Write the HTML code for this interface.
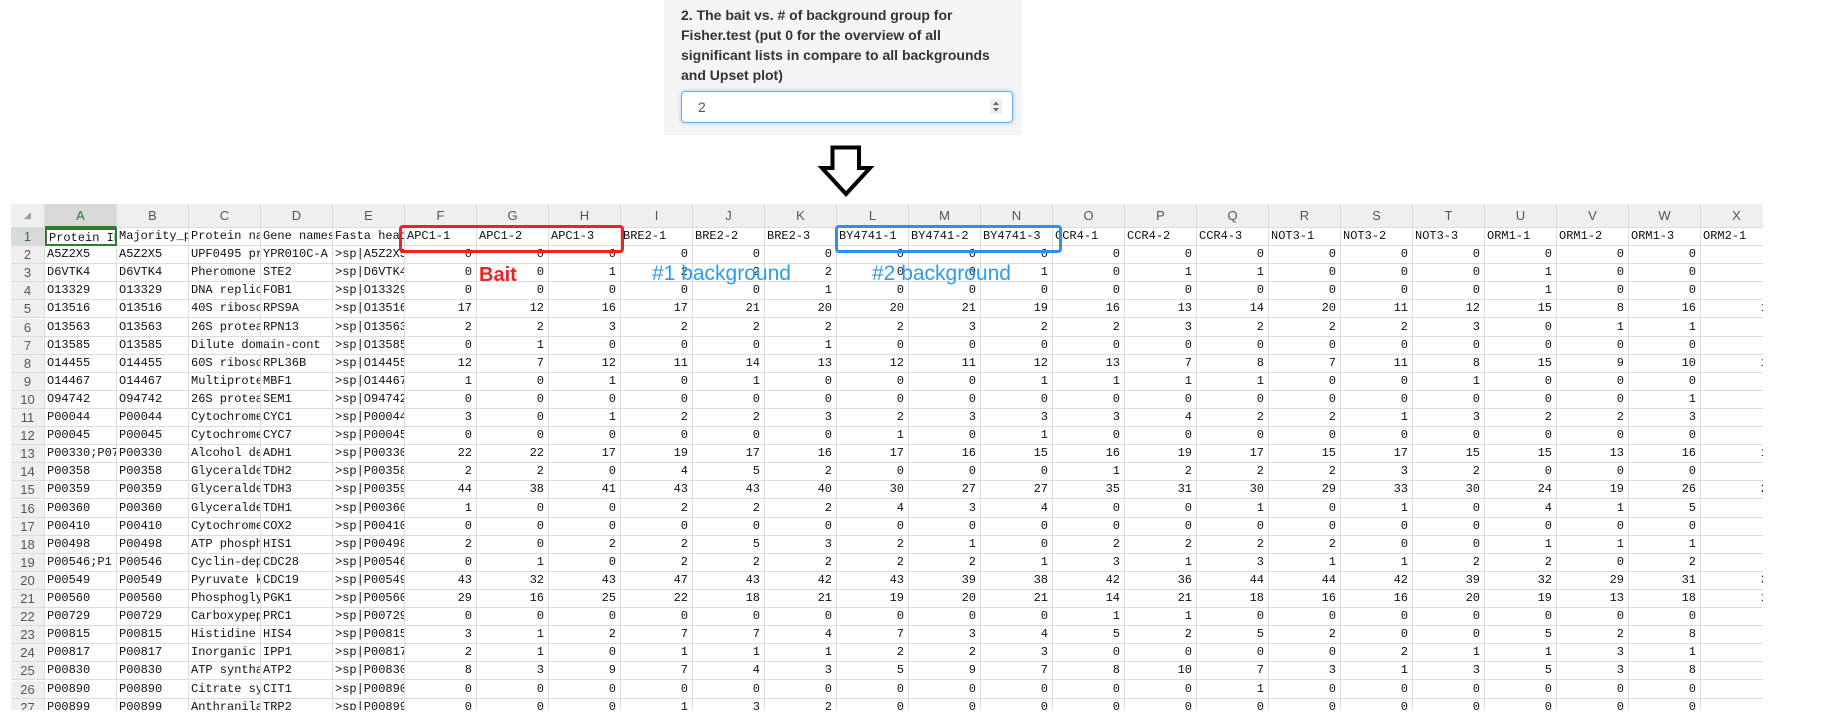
<!DOCTYPE html>
<html><head><meta charset="utf-8">
<style>
html,body{margin:0;padding:0;background:#fff;width:1821px;height:724px;overflow:hidden;position:relative;font-family:"Liberation Sans",sans-serif;}
#panel{position:absolute;left:664px;top:0;width:358px;height:135px;background:#f5f5f5;}
#panel .lbl{position:absolute;left:17px;top:5px;font-weight:bold;font-size:14px;line-height:20px;color:#333;width:340px;white-space:nowrap;}
#inp{position:absolute;left:17px;top:91px;width:332px;height:32px;background:#fff;border:1px solid #66afe9;border-radius:4px;box-shadow:0 0 4px rgba(102,175,233,.6);box-sizing:border-box;font-size:14px;color:#555;}
#inp span{position:absolute;left:16px;top:7px;}
#spin{position:absolute;right:10px;top:7px;width:12px;height:15px;background:#eee;}
#grid{position:absolute;left:11px;top:204px;width:1752px;height:506px;overflow:hidden;}
.c{position:absolute;box-sizing:border-box;border-right:1px solid #dcdcdc;border-bottom:1px solid #dcdcdc;font-family:"Liberation Mono",monospace;font-size:12px;color:#111;white-space:nowrap;overflow:hidden;line-height:17px;padding:0 2px;}
.h{background:#efefef;font-family:"Liberation Sans",sans-serif;font-size:13px;color:#555;text-align:center;line-height:23px;}
.rn{background:#efefef;font-family:"Liberation Sans",sans-serif;font-size:13px;color:#555;text-align:center;}
.num{text-align:right;padding-right:4px;}
.box{position:absolute;border:3px solid;border-radius:4px;box-sizing:border-box;}
.ann{position:absolute;font-size:21px;line-height:24px;white-space:nowrap;}
</style></head><body>
<div id="panel">
 <div class="lbl">2. The bait vs. # of background group for<br>Fisher.test (put 0 for the overview of all<br>significant lists in compare to all backgrounds<br>and Upset plot)</div>
 <div id="inp"><span>2</span>
  <svg id="spin" viewBox="0 0 12 15"><rect width="12" height="15" fill="#eee"/><path d="M3 6 L6 2.5 L9 6Z M3 9 L6 12.5 L9 9Z" fill="#666"/></svg>
 </div>
</div>
<svg style="position:absolute;left:816px;top:144px" width="60" height="55" viewBox="0 0 60 55">
 <path d="M16.5 3.5 H43 V24 H54 L30 50 L6 24 H16.5 Z" fill="#fff" stroke="#000" stroke-width="4" stroke-linejoin="miter"/>
</svg>
<div id="grid"></div>
<div class="box" style="left:399px;top:225px;width:225px;height:28px;border-color:#ee2222"></div>
<div class="box" style="left:835px;top:225px;width:227px;height:28px;border-color:#2d8ff0"></div>
<div class="ann" style="left:479px;top:263px;color:#e8242a;font-weight:bold;font-size:20px">Bait</div>
<div class="ann" style="left:652px;top:262px;color:#2e9bf0;">#1 background</div>
<div class="ann" style="left:872px;top:262px;color:#2e9bf0;">#2 background</div>
<script>
const colLetters="ABCDEFGHIJKLMNOPQRSTUVWX".split("");
const headers=["Protein IDs","Majority_protein","Protein names","Gene names","Fasta headers","APC1-1","APC1-2","APC1-3","BRE2-1","BRE2-2","BRE2-3","BY4741-1","BY4741-2","BY4741-3","CCR4-1","CCR4-2","CCR4-3","NOT3-1","NOT3-2","NOT3-3","ORM1-1","ORM1-2","ORM1-3","ORM2-1"];
const textCols=[
["A5Z2X5","A5Z2X5","UPF0495 protein","YPR010C-A",">sp|A5Z2X5"],
["D6VTK4","D6VTK4","Pheromone","STE2",">sp|D6VTK4"],
["O13329","O13329","DNA replication","FOB1",">sp|O13329"],
["O13516","O13516","40S ribosomal","RPS9A",">sp|O13516"],
["O13563","O13563","26S proteasome","RPN13",">sp|O13563"],
["O13585","O13585","Dilute domain-cont","",">sp|O13585"],
["O14455","O14455","60S ribosomal","RPL36B",">sp|O14455"],
["O14467","O14467","Multiprotein","MBF1",">sp|O14467"],
["O94742","O94742","26S proteasome","SEM1",">sp|O94742"],
["P00044","P00044","Cytochrome","CYC1",">sp|P00044"],
["P00045","P00045","Cytochrome","CYC7",">sp|P00045"],
["P00330;P07246","P00330","Alcohol dehydrogenase","ADH1",">sp|P00330"],
["P00358","P00358","Glyceraldehyde","TDH2",">sp|P00358"],
["P00359","P00359","Glyceraldehyde","TDH3",">sp|P00359"],
["P00360","P00360","Glyceraldehyde","TDH1",">sp|P00360"],
["P00410","P00410","Cytochrome","COX2",">sp|P00410"],
["P00498","P00498","ATP phosphoribosyl","HIS1",">sp|P00498"],
["P00546;P1","P00546","Cyclin-dependent","CDC28",">sp|P00546"],
["P00549","P00549","Pyruvate kinase","CDC19",">sp|P00549"],
["P00560","P00560","Phosphoglycerate","PGK1",">sp|P00560"],
["P00729","P00729","Carboxypeptidase","PRC1",">sp|P00729"],
["P00815","P00815","Histidine","HIS4",">sp|P00815"],
["P00817","P00817","Inorganic","IPP1",">sp|P00817"],
["P00830","P00830","ATP synthase","ATP2",">sp|P00830"],
["P00890","P00890","Citrate synthase","CIT1",">sp|P00890"],
["P00899","P00899","Anthranilate","TRP2",">sp|P00899"]];
const counts=[
[0,0,0,0,0,0,0,0,0,0,0,0,0,0,0,0,0,0,""],
[0,0,1,2,2,2,0,0,1,0,1,1,0,0,0,1,0,0,""],
[0,0,0,0,0,1,0,0,0,0,0,0,0,0,0,1,0,0,""],
[17,12,16,17,21,20,20,21,19,16,13,14,20,11,12,15,8,16,1],
[2,2,3,2,2,2,2,3,2,2,3,2,2,2,3,0,1,1,""],
[0,1,0,0,0,1,0,0,0,0,0,0,0,0,0,0,0,0,""],
[12,7,12,11,14,13,12,11,12,13,7,8,7,11,8,15,9,10,1],
[1,0,1,0,1,0,0,0,1,1,1,1,0,0,1,0,0,0,""],
[0,0,0,0,0,0,0,0,0,0,0,0,0,0,0,0,0,1,""],
[3,0,1,2,2,3,2,3,3,3,4,2,2,1,3,2,2,3,""],
[0,0,0,0,0,0,1,0,1,0,0,0,0,0,0,0,0,0,""],
[22,22,17,19,17,16,17,16,15,16,19,17,15,17,15,15,13,16,1],
[2,2,0,4,5,2,0,0,0,1,2,2,2,3,2,0,0,0,""],
[44,38,41,43,43,40,30,27,27,35,31,30,29,33,30,24,19,26,2],
[1,0,0,2,2,2,4,3,4,0,0,1,0,1,0,4,1,5,""],
[0,0,0,0,0,0,0,0,0,0,0,0,0,0,0,0,0,0,""],
[2,0,2,2,5,3,2,1,0,2,2,2,2,0,0,1,1,1,""],
[0,1,0,2,2,2,2,2,1,3,1,3,1,1,2,2,0,2,""],
[43,32,43,47,43,42,43,39,38,42,36,44,44,42,39,32,29,31,3],
[29,16,25,22,18,21,19,20,21,14,21,18,16,16,20,19,13,18,1],
[0,0,0,0,0,0,0,0,0,1,1,0,0,0,0,0,0,0,""],
[3,1,2,7,7,4,7,3,4,5,2,5,2,0,0,5,2,8,""],
[2,1,0,1,1,1,2,2,3,0,0,0,0,2,1,1,3,1,""],
[8,3,9,7,4,3,5,9,7,8,10,7,3,1,3,5,3,8,""],
[0,0,0,0,0,0,0,0,0,0,0,1,0,0,0,0,0,0,""],
[0,0,0,1,3,2,0,0,0,0,0,0,0,0,0,0,0,0,""]];
const g=document.getElementById('grid');
const RN=34, CW=72, HH=24, RH=18.1;
function cell(x,y,w,h,cls,txt){const d=document.createElement('div');d.className='c '+cls;d.style.left=x+'px';d.style.top=y+'px';d.style.width=w+'px';d.style.height=h+'px';d.textContent=txt;g.appendChild(d);return d;}
const corner=cell(0,0,RN,HH,'h','◢');
corner.style.color='#999';corner.style.fontSize='9px';


colLetters.forEach((L,i)=>{
 const d=cell(RN+i*CW,0,CW,HH,'h',L);
 
 
 if(i===0){d.style.background='#d9d9d9';d.style.color='#1e7a3c';d.style.borderBottom='2px solid #2e7d32';}
});
const nRows=1+textCols.length;
for(let r=0;r<nRows;r++){
 const y=HH+r*RH;
 const rn=cell(0,y,RN,RH,'rn',String(r+1));
 
 
 if(r===0){rn.style.background='#d9d9d9';rn.style.color='#1e7a3c';}
 for(let c=0;c<24;c++){
  let txt,cls='';
  if(r===0){txt=headers[c];}
  else if(c<5){txt=textCols[r-1][c];}
  else {txt=String(counts[r-1][c-5]);cls='num';}
  const d=cell(RN+c*CW,y,CW,RH,cls,txt);
  
  
  if(r===6&&c===2){d.style.zIndex='2';d.style.width=(CW*2)+'px';}
  if(r===0&&c===0){d.style.border='2px solid #2e7d32';}
 }
}
</script>
</body></html>
